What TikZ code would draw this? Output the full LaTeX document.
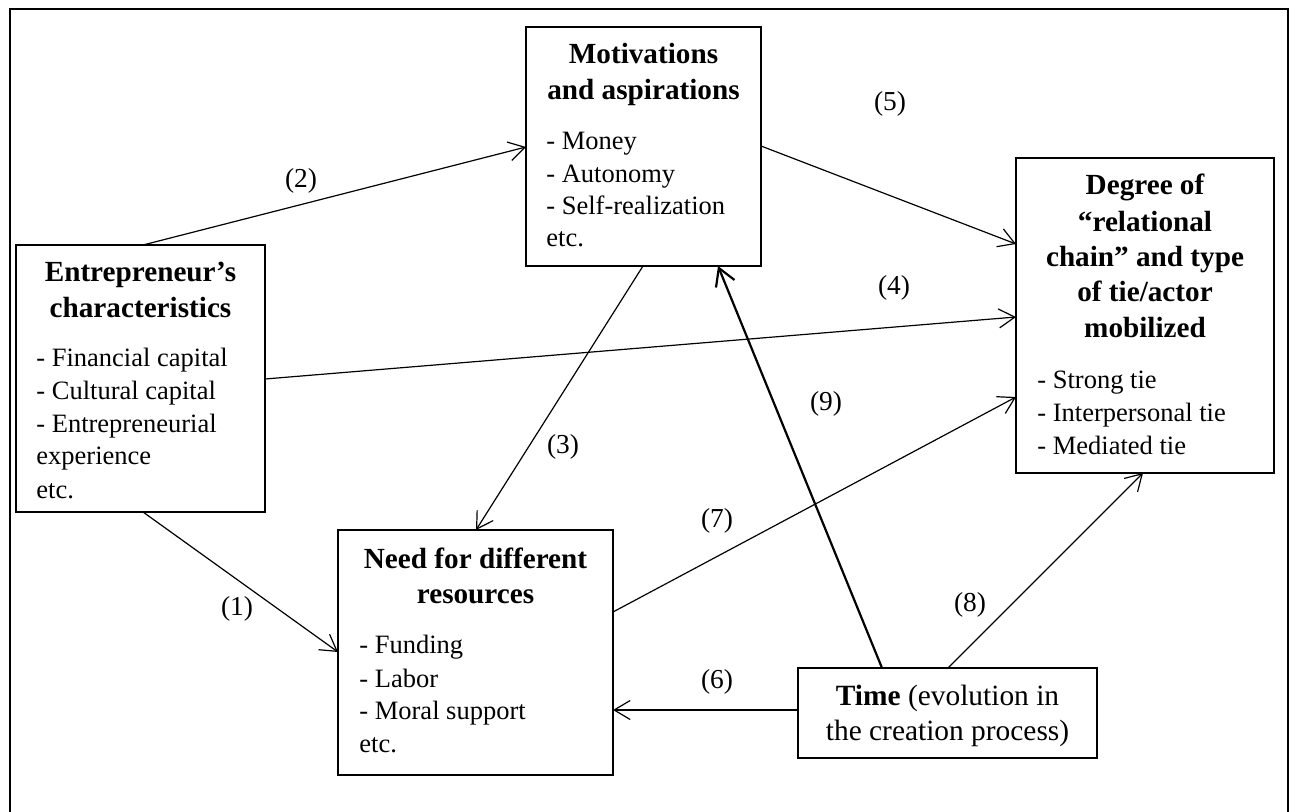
\documentclass[tikz,border=0pt]{standalone}
\usepackage{fontspec}
\setmainfont{Liberation Serif}
\usetikzlibrary{arrows.meta,calc}
\begin{document}
\begin{tikzpicture}[x=0.5pt,y=-0.5pt,
  box/.style={draw,line width=1.2pt,inner sep=0,outer sep=0},
  conn/.style={line width=0.6pt,-{Straight Barb[length=8pt,width=9.5pt]}},
  thickconn/.style={line width=1.1pt,-{Straight Barb[length=8.5pt,width=10pt]}},
  ttl/.style={anchor=base,inner sep=0,font=\fontsize{14.6}{17}\selectfont\bfseries},
  bdy/.style={anchor=base west,inner sep=0,font=\fontsize{13.25}{16}\selectfont},
  tim/.style={anchor=base,inner sep=0,font=\fontsize{14.7}{17}\selectfont},
  num/.style={inner sep=0,font=\fontsize{13.7}{16}\selectfont}]
\useasboundingbox (0,0) rectangle (1295,812);
% outer frame (bottom edge lies below the picture)
\draw[line width=1pt] (10,830) -- (10,9) -- (1288,9) -- (1288,830);

% boxes
\node[box,minimum width=124.5pt,minimum height=133.5pt] (ent) at (140.5,378.5) {};
\node[box,minimum width=117.5pt,minimum height=119.5pt] (mot) at (643.5,146.5) {};
\node[box,minimum width=129pt,minimum height=157.5pt] (deg) at (1145,315.5) {};
\node[box,minimum width=137.5pt,minimum height=122.5pt] (need) at (475.5,652.5) {};
\node[box,minimum width=149.5pt,minimum height=45pt] (time) at (947.5,713) {};

% titles
\node[ttl] (entT1) at (140.5,282) {Entrepreneur’s};
\node[ttl] (entT2) at (140.5,318) {characteristics};
\node[ttl] (motT1) at (643.5,64) {Motivations};
\node[ttl] (motT2) at (643.5,100) {and aspirations};
\node[ttl] (degT1) at (1145,195) {Degree of};
\node[ttl] (degT2) at (1145,232) {“relational};
\node[ttl] (degT3) at (1145,267) {chain” and type};
\node[ttl] (degT4) at (1145,302) {of tie/actor};
\node[ttl] (degT5) at (1145,338) {mobilized};
\node[ttl] (needT1) at (475.5,568) {Need for different};
\node[ttl] (needT2) at (475.5,603) {resources};
\node[tim] (timeT1) at (947.5,705) {\textbf{Time} (evolution in};
\node[tim] (timeT2) at (947.5,740) {the creation process)};

% body lists
\node[bdy] (entB1) at (36,367) {- Financial capital};
\node[bdy] (entB2) at (36,400) {- Cultural capital};
\node[bdy] (entB3) at (36,432) {- Entrepreneurial};
\node[bdy] (entB4) at (36,465) {experience};
\node[bdy] (entB5) at (36,498) {etc.};
\node[bdy] (motB1) at (546,150) {- Money};
\node[bdy] (motB2) at (546,183) {- Autonomy};
\node[bdy] (motB3) at (546,215) {- Self-realization};
\node[bdy] (motB4) at (546,247) {etc.};
\node[bdy] (degB1) at (1037,388) {- Strong tie};
\node[bdy] (degB2) at (1037,422) {- Interpersonal tie};
\node[bdy] (degB3) at (1037,454) {- Mediated tie};
\node[bdy] (needB1) at (359,653) {- Funding};
\node[bdy] (needB2) at (359,687) {- Labor};
\node[bdy] (needB3) at (359,719) {- Moral support};
\node[bdy] (needB4) at (359,752) {etc.};

% connectors
\draw[conn] ($(ent.south west)+(127,0)$) -- ($(need.north west)+(0,122)$);
\draw[conn] ($(ent.north west)+(127,0)$) -- ($(mot.north west)+(0,120)$);
\draw[conn] ($(mot.south west)+(117,0)$) -- ($(need.north west)+(138,0)$);
\draw[conn] ($(ent.north east)+(0,134)$) -- ($(deg.north west)+(0,159)$);
\draw[conn] ($(mot.north east)+(0,119)$) -- ($(deg.north west)+(0,86)$);
\draw[conn] ($(time.north west)+(0,42)$) -- ($(need.north east)+(0,180)$);
\draw[conn] ($(need.north east)+(0,82)$) -- ($(deg.north west)+(0,239)$);
\draw[conn] ($(time.north west)+(150,0)$) -- ($(deg.south west)+(127,0)$);
\draw[thickconn] ($(time.north west)+(84,0)$) -- ($(mot.south west)+(192,0)$);

% connector labels
\node[num] (l1) at (237,609) {(1)};
\node[num] (l2) at (301,181) {(2)};
\node[num] (l3) at (563,447) {(3)};
\node[num] (l4) at (894,288) {(4)};
\node[num] (l5) at (890,104) {(5)};
\node[num] (l6) at (717,682) {(6)};
\node[num] (l7) at (717,521) {(7)};
\node[num] (l8) at (970,605) {(8)};
\node[num] (l9) at (826,404) {(9)};
\end{tikzpicture}
\end{document}
